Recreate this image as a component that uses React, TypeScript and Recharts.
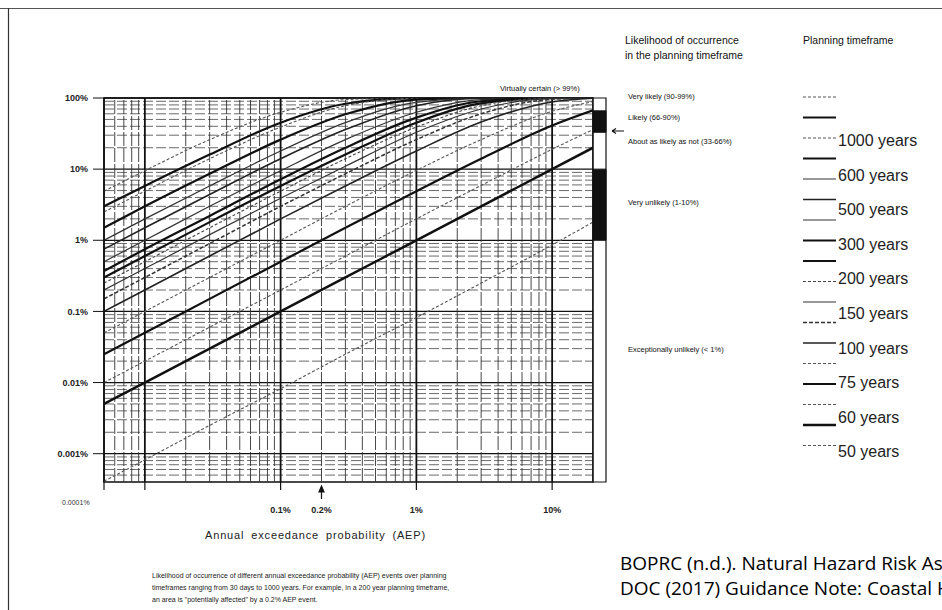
import { LineChart, Line, XAxis, YAxis, ReferenceLine, ReferenceArea, ComposedChart } from "recharts";

// annual exceedance probability (x) at which each curve was read
const aep = [0.00005, 0.0001, 0.0003, 0.001, 0.003, 0.01, 0.03, 0.1, 0.2];

// likelihood of occurrence in the planning timeframe
const p1000 = [0.049, 0.095, 0.26, 0.63, 0.95, 1, 1, 1, 1];
const p600 = [0.03, 0.058, 0.16, 0.45, 0.83, 0.998, 1, 1, 1];
const p500 = [0.025, 0.049, 0.14, 0.39, 0.78, 0.993, 1, 1, 1];
const p300 = [0.015, 0.03, 0.086, 0.26, 0.59, 0.95, 1, 1, 1];
const p200 = [0.01, 0.02, 0.058, 0.18, 0.45, 0.87, 0.998, 1, 1];
const p150 = [0.0075, 0.015, 0.044, 0.14, 0.36, 0.78, 0.99, 1, 1];
const p100 = [0.005, 0.01, 0.03, 0.095, 0.26, 0.63, 0.95, 1, 1];
const p75 = [0.0037, 0.0075, 0.022, 0.072, 0.2, 0.53, 0.9, 1, 1];
const p60 = [0.003, 0.006, 0.018, 0.058, 0.16, 0.45, 0.84, 0.998, 1];
const p50 = [0.0025, 0.005, 0.015, 0.049, 0.14, 0.39, 0.78, 0.995, 1];
const p40 = [0.002, 0.004, 0.012, 0.039, 0.11, 0.33, 0.7, 0.985, 1];
const p30 = [0.0015, 0.003, 0.009, 0.03, 0.086, 0.26, 0.6, 0.96, 0.999];
const p20 = [0.001, 0.002, 0.006, 0.02, 0.058, 0.18, 0.46, 0.88, 0.99];
const p10 = [0.0005, 0.001, 0.003, 0.01, 0.03, 0.096, 0.26, 0.65, 0.89];
const p5 = [0.00025, 0.0005, 0.0015, 0.005, 0.015, 0.049, 0.14, 0.41, 0.67];
const p2 = [0.0001, 0.0002, 0.0006, 0.002, 0.006, 0.02, 0.059, 0.19, 0.36];
const p1 = [0.00005, 0.0001, 0.0003, 0.001, 0.003, 0.01, 0.03, 0.1, 0.2];
const p30d = [0.0000041, 0.0000082, 0.000025, 0.000082, 0.00025, 0.00082, 0.0025, 0.0086, 0.018];

const timeframes = [
  "1000 years", "600 years", "500 years", "300 years", "200 years", "150 years",
  "100 years", "75 years", "60 years", "50 years", "40 years", "30 years",
  "20 years", "10 years", "5 years", "2 years", "1 year", "30 days",
];
const seriesValues = [p1000, p600, p500, p300, p200, p150, p100, p75, p60, p50, p40, p30, p20, p10, p5, p2, p1, p30d];

// labels pasted next to the legend samples
const legendLabels = ["1000 years", "600 years", "500 years", "300 years", "200 years", "150 years", "100 years", "75 years", "60 years", "50 years"];

const xTicks = [0.00005, 0.0001, 0.001, 0.002, 0.01, 0.1];
const xTickLabels = ["", "", "0.1%", "0.2%", "1%", "10%"];
const yTicks = [0.00001, 0.0001, 0.001, 0.01, 0.1, 1];
const yTickLabels = ["0.001%", "0.01%", "0.1%", "1%", "10%", "100%"];

const likelihoodLabels = [
  "Very likely (90-99%)",
  "Likely (66-90%)",
  "About as likely as not (33-66%)",
  "Very unlikely (1-10%)",
  "Exceptionally unlikely (< 1%)",
];
const bandLow = [0.33, 0.01];
const bandHigh = [0.66, 0.1];

// styling, kept apart from the data
const thick = { stroke: "#111", strokeWidth: 2.2, dash: undefined as string | undefined };
const thin = { stroke: "#333", strokeWidth: 1.2, dash: undefined as string | undefined };
const mid = { stroke: "#222", strokeWidth: 1.6, dash: undefined as string | undefined };
const dotted = { stroke: "#555", strokeWidth: 1.1, dash: "3 2" };
const lineStyles = [
  dotted, thick, dotted, thick, thin, mid, thin, thick, thick,
  { ...dotted, stroke: "#444" }, thin, { stroke: "#333", strokeWidth: 1.5, dash: "4 2" }, mid,
  dotted, thick, dotted, { ...thick, strokeWidth: 2.5 }, dotted,
];
const likelihoodY = [99, 120, 144, 205, 352];

const X_DOMAIN = [0.00005, 0.2];
const Y_DOMAIN = [0.000004, 1];
const sans = '"Liberation Sans", Arial, sans-serif';

const rows = aep.map((a, i) => {
  const r: Record<string, number> = { aep: a };
  timeframes.forEach((t, j) => (r[t] = seriesValues[j][i]));
  return r;
});

const logSteps = (lo: number, hi: number) => {
  const out: number[] = [];
  for (let e = -6; e <= 0; e++)
    for (let k = 1; k <= 9; k++) {
      const v = +(k * Math.pow(10, e)).toPrecision(3);
      if (v >= lo && v <= hi) out.push(v);
    }
  return out;
};
const vGrid = logSteps(X_DOMAIN[0], X_DOMAIN[1]);
const hGrid = logSteps(Y_DOMAIN[0], Y_DOMAIN[1]);
const isDecade = (v: number) => Math.abs(Math.log10(v) - Math.round(Math.log10(v))) < 1e-9;

function XTick(props: any) {
  const { x, y, payload } = props;
  const label = xTickLabels[xTicks.indexOf(payload.value)] ?? "";
  const arrow = label === "0.2%";
  return (
    <g>
      {arrow ? (
        <g stroke="#111" strokeWidth={1.2} fill="#111">
          <line x1={x} y1={488} x2={x} y2={499} />
          <path d={`M${x - 2.5},${492} L${x},${486} L${x + 2.5},${492} Z`} />
        </g>
      ) : (
        <line x1={x} y1={y} x2={x} y2={y + 8} stroke="#111" strokeWidth={1.2} />
      )}
      {label && (
        <text x={x} y={y + 31} textAnchor="middle" fontSize={9} fontWeight="bold" fill="#222" fontFamily={sans}>
          {label}
        </text>
      )}
    </g>
  );
}

export default function App() {
  return (
    <div style={{ position: "absolute", left: 0, top: 0, width: 942, height: 610, background: "#fff", overflow: "hidden" }}>
      <div style={{ position: "absolute", left: 0, top: 0 }}>
        <LineChart width={620} height={610} data={rows} margin={{ top: 98, right: 27, bottom: 98, left: 44 }}>
          <XAxis
            dataKey="aep"
            type="number"
            scale="log"
            domain={X_DOMAIN}
            allowDataOverflow
            ticks={xTicks}
            interval={0}
            tick={<XTick />}
            tickLine={false}
            axisLine={false}
            tickSize={0}
            tickMargin={0}
            height={30}
          />
          <YAxis
            type="number"
            scale="log"
            domain={Y_DOMAIN}
            allowDataOverflow
            ticks={yTicks}
            interval={0}
            width={60}
            tickSize={11}
            tickMargin={5}
            tickFormatter={(v: number) => yTickLabels[yTicks.indexOf(v)] ?? ""}
            tick={{ fontSize: 9, fontWeight: "bold", fill: "#222", fontFamily: sans }}
            tickLine={{ stroke: "#111" }}
            axisLine={{ stroke: "#111", strokeWidth: 1.5 }}
          />
          {hGrid.map((v) => (
            <ReferenceLine
              key={`h${v}`}
              y={v}
              stroke={isDecade(v) ? "#111" : "#444"}
              strokeWidth={isDecade(v) ? 1.3 : 0.8}
              strokeDasharray={isDecade(v) ? undefined : "10 3"}
            />
          ))}
          {vGrid.map((v) => (
            <ReferenceLine
              key={`v${v}`}
              x={v}
              stroke={isDecade(v) ? "#111" : "#333"}
              strokeWidth={isDecade(v) ? 1.8 : 0.9}
              strokeDasharray={isDecade(v) ? undefined : "14 2"}
            />
          ))}
          {timeframes.map((t, j) => (
            <Line
              key={t}
              dataKey={t}
              type="monotone"
              stroke={lineStyles[j].stroke}
              strokeWidth={lineStyles[j].strokeWidth}
              strokeDasharray={lineStyles[j].dash}
              dot={false}
              isAnimationActive={false}
            />
          ))}
          <ReferenceArea
            x1={X_DOMAIN[0]}
            x2={X_DOMAIN[1]}
            y1={Y_DOMAIN[0]}
            y2={Y_DOMAIN[1]}
            fill="none"
            fillOpacity={0}
            stroke="#111"
            strokeWidth={1.6}
            ifOverflow="visible"
          />
        </LineChart>
      </div>

      {/* likelihood band beside the plot, on the same probability scale */}
      <div style={{ position: "absolute", left: 590, top: 0 }}>
        <ComposedChart width={20} height={610} data={[{ x: 0 }, { x: 1 }]} margin={{ top: 98, right: 4, bottom: 128, left: 3 }}>
          <XAxis dataKey="x" type="number" domain={[0, 1]} hide />
          <YAxis type="number" scale="log" domain={Y_DOMAIN} allowDataOverflow hide />
          <ReferenceArea y1={Y_DOMAIN[0]} y2={Y_DOMAIN[1]} fill="#fff" stroke="#111" strokeWidth={1.2} ifOverflow="visible" />
          {bandLow.map((lo, i) => (
            <ReferenceArea key={lo} y1={lo} y2={bandHigh[i]} fill="#111" fillOpacity={1} stroke="#111" ifOverflow="visible" />
          ))}
        </ComposedChart>
      </div>

      <svg width={942} height={610} style={{ position: "absolute", left: 0, top: 0 }} fontFamily={sans}>
        <line x1={0} y1={8.5} x2={942} y2={8.5} stroke="#555" strokeWidth={1} />
        <line x1={8.5} y1={8} x2={8.5} y2={610} stroke="#333" strokeWidth={1.2} />

        <text x={500} y={91} fontSize={7.5} fill="#111">Virtually certain (&gt; 99%)</text>
        <path d="M612,131 L624,131 M612,131 L616,128.5 M612,131 L616,133.5" stroke="#111" strokeWidth={1.1} fill="none" />
        <text x={62} y={505} fontSize={7} fill="#333">0.0001%</text>

        <text x={625} y={44} fontSize={10.5} fill="#111">Likelihood of occurrence</text>
        <text x={625} y={59} fontSize={10.5} fill="#111">in the planning timeframe</text>
        <text x={803} y={44} fontSize={10.5} fill="#111">Planning timeframe</text>

        {likelihoodLabels.map((l, i) => (
          <text key={l} x={628} y={likelihoodY[i]} fontSize={7.5} fill="#111">{l}</text>
        ))}

        {lineStyles.map((s, i) => (
          <line
            key={i}
            x1={803}
            x2={836}
            y1={97 + i * 20.5}
            y2={97 + i * 20.5}
            stroke={s.stroke}
            strokeWidth={s.strokeWidth}
            strokeDasharray={s.dash}
          />
        ))}
        {legendLabels.map((l, i) => (
          <text key={l} x={838} y={146 + i * 34.6} fontSize={16} fill="#222">{l}</text>
        ))}

        <text x={205} y={539} fontSize={11} letterSpacing={0.85} wordSpacing={3} fill="#222">
          Annual exceedance probability (AEP)
        </text>
        <g fontSize={7} fill="#222">
          <text x={152} y={578}>Likelihood of occurrence of different annual exceedance probability (AEP) events over planning</text>
          <text x={152} y={590}>timeframes ranging from 30 days to 1000 years. For example, in a 200 year planning timeframe,</text>
          <text x={152} y={602}>an area is "potentially affected" by a 0.2% AEP event.</text>
        </g>
        <g fontSize={19} fill="#000" fontFamily='"Open Sans", sans-serif' style={{ whiteSpace: "pre" }}>
          <text x={620} y={570}>BOPRC (n.d.). Natural Hazard Risk Assessment</text>
          <text x={620} y={595}>DOC (2017)  Guidance Note: Coastal Hazards and Climate Change</text>
        </g>
      </svg>
    </div>
  );
}
